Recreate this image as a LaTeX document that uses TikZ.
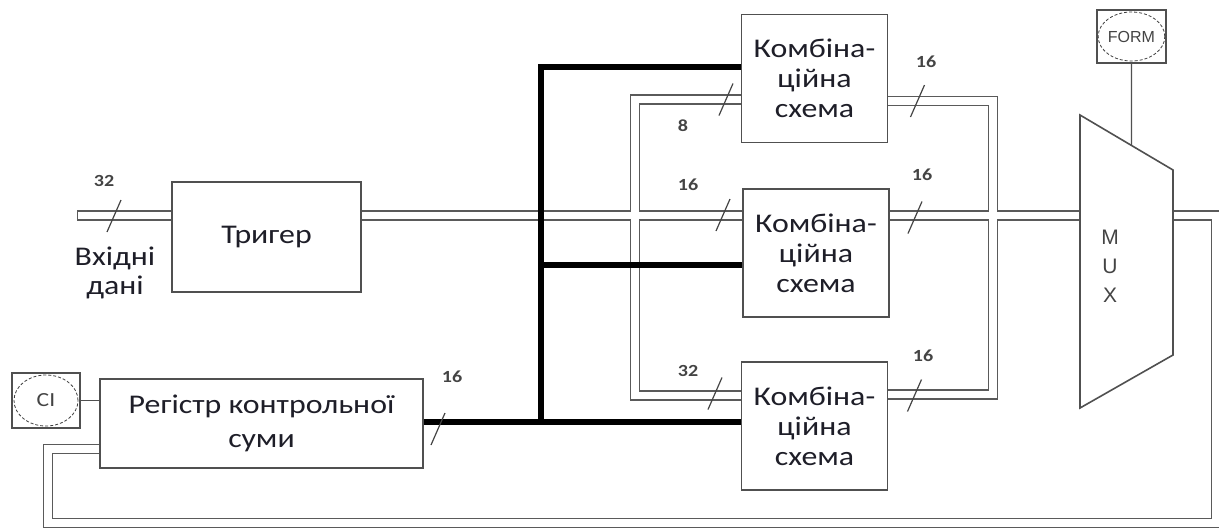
\documentclass[tikz,border=0pt]{standalone}
\usepackage{fontspec}
\setmainfont{Carlito}[FakeStretch=1.18]
\newfontfamily\arialfont{Liberation Sans}
\usetikzlibrary{shapes.geometric, backgrounds, calc}
\definecolor{bxGray}{HTML}{505050}
\definecolor{busGray}{HTML}{5A5A5A}
\definecolor{numGray}{HTML}{444444}
\definecolor{txtDark}{HTML}{1E1E28}

\tikzset{
  blok/.style={draw=bxGray, line width=1.6pt, fill=white, align=center, inner sep=0pt, text=txtDark},
  komb/.style={blok, minimum width=146pt, minimum height=128pt, font=\fontsize{27}{30}\selectfont},
  kerbox/.style={draw=bxGray, line width=1.6pt, fill=white, inner sep=0pt},
  ovl/.style={ellipse, draw=black!75, densely dashed, line width=0.8pt, inner sep=0pt, text=numGray},
  shyna/.style={draw=busGray, line width=1.7pt, double=white, double distance=7.2pt},
  tovsta/.style={black, line width=5.5pt},
  rysk/.style={numGray, line width=1.2pt},
  chyslo/.style={text=numGray, font=\fontsize{17}{17}\selectfont\bfseries},
}

\begin{document}
\begin{tikzpicture}[x=1pt, y=-1pt]
  \useasboundingbox (0,0) rectangle (1219,531);
  % блоки
  \node[blok, minimum width=189pt, minimum height=110pt, font=\fontsize{27}{30}\selectfont] (trig) at (266.5,237) {Тригер};
  \node[blok, minimum width=323pt, minimum height=89pt, font=\fontsize{27}{34}\selectfont] (reg) at (261.5,423.5) {Регістр контрольної\\суми};
  \node[komb] (k1) at (814.5,78.5) {Комбіна-\\ційна\\схема};
  \node[komb] (k2) at (816,253) {Комбіна-\\ційна\\схема};
  \node[komb] (k3) at (814.5,426) {Комбіна-\\ційна\\схема};
  \node[align=center, text=txtDark, font=\fontsize{27}{29}\selectfont] (vkh) at (115,273) {Вхідні\\дані};
  % мультиплексор
  \coordinate (m1) at (1080,115);
  \coordinate (m2) at (1173,170);
  \coordinate (m3) at (1173,355);
  \coordinate (m4) at (1080,408);
  \draw[blok] (m1) -- (m2) -- (m3) -- (m4) -- cycle;
  \node[align=center, text=numGray, font=\arialfont\fontsize{21}{29}\selectfont] (muxt) at (1110,266) {M\\U\\X};
  % керування
  \node[kerbox, minimum width=69pt, minimum height=53pt] (form) at (1131.5,36.5) {};
  \node[ovl, minimum width=65pt, minimum height=49pt, font=\arialfont\fontsize{16}{16}\selectfont] (form-o) at (form) {FORM};
  \node[kerbox, minimum width=68pt, minimum height=55pt] (ci) at (46,400.5) {};
  \node[ovl, minimum width=64pt, minimum height=51pt, font=\fontsize{20}{20}\selectfont] (ci-o) at (ci) {CI};
  \coordinate (mf) at ($(m1)!0.554!(m2)$);
  \draw[bxGray, line width=1.4pt] (form.south) -- (mf);
  \draw[bxGray, line width=1.4pt] (ci.east) -- (ci.east -| reg.west);
  % шини
  \coordinate (bin) at (82,215.5);
  \coordinate (jl) at (635,215.5);
  \coordinate (l1) at (635,99.5);
  \coordinate (l3) at (635,395.5);
  \coordinate (r1) at (993,101);
  \coordinate (r3) at (993,394.5);
  \coordinate (pr) at (1216,523);
  \coordinate (pl) at (48,449);
  \coordinate (t1) at (541,67);
  \coordinate (t2) at (541,265);
  \coordinate (t3) at (541,422);
  \begin{scope}[on background layer]
    \draw[shyna, line cap=rect] (bin) -- (trig.west |- bin);
    \draw[shyna] (trig.east |- jl) -- (k2.west |- jl)
      (k2.east |- jl) -- (m1 |- jl)
      (k1.west |- l1) -| (l3) -- (k3.west |- l3)
      (k1.east |- r1) -| (r3) -- (k3.east |- r3);
    \draw[shyna] (m2 |- jl) -| (pr) -| (pl) -- (reg.west |- pl);
    % товсті лінії
    \draw[tovsta] (k1.west |- t1) -| (t3);
    \draw[tovsta] (reg.east |- t3) -- (k3.west |- t3);
    \draw[tovsta] (t2) -- (k2.west |- t2);
  \end{scope}
  % розрядність
  \foreach \sx/\sy/\lx/\ly/\t [count=\i] in {114/216/104/181/32, 726/99.5/683/126/8,
      917.5/101/926/62/16, 723/215/688/185/16, 915/217.5/922/175/16,
      715/393.5/688/371/32, 914.5/395.5/923/356/16, 438/429/452/377/16}{
    \draw[rysk] (\sx-7,\sy+16) -- (\sx+7,\sy-16);
    \node[chyslo] (n\i) at (\lx,\ly) {\t};
  }
\end{tikzpicture}
\end{document}
